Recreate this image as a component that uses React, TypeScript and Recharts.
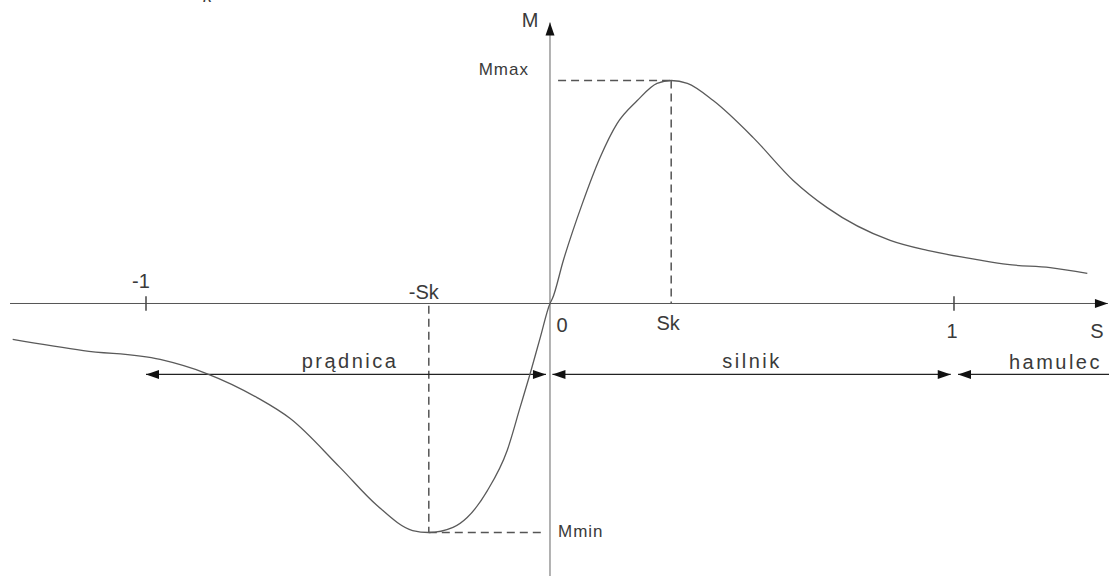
import React from "react";
import { LineChart, Line, XAxis, YAxis, ReferenceLine, ReferenceDot } from "recharts";

// slip s and torque M (M relative to Mmax)
const slip = [
  -1.33, -1.155, -0.965, -0.85, -0.725, -0.643, -0.52, -0.428, -0.34, -0.3, -0.24, -0.205, -0.155,
  -0.106, -0.074, -0.049, -0.024, 0, 0.006, 0.033, 0.08, 0.124, 0.166, 0.216, 0.265, 0.3, 0.34,
  0.404, 0.503, 0.602, 0.686, 0.842, 0.934, 1.057, 1.132, 1.238, 1.33,
];
const torque = [
  -0.161, -0.211, -0.251, -0.314, -0.422, -0.516, -0.735, -0.906, -1.018, -1.027, -1.004, -0.96,
  -0.839, -0.659, -0.466, -0.314, -0.152, 0, 0.022, 0.193, 0.448, 0.655, 0.807, 0.91, 0.987, 1,
  0.987, 0.91, 0.744, 0.552, 0.43, 0.283, 0.238, 0.197, 0.175, 0.161, 0.135,
];

const SK = 0.3;
const M_MAX = 1;
const M_MIN = -1.027;

// operating regions along the slip axis
const regions = [
  { name: "prądnica", from: -1, to: 0 },
  { name: "silnik", from: 0, to: 1 },
  { name: "hamulec", from: 1, to: 1.3837 },
];

const tickLabels = [
  { text: "-1", s: -1 },
  { text: "-Sk", s: -SK },
  { text: "0", s: 0 },
  { text: "Sk", s: SK },
  { text: "1", s: 1 },
];

const data = slip.map((s, i) => ({ s, m: torque[i] }));

const X_DOMAIN: [number, number] = [-1.3614, 1.3837];
const Y_DOMAIN: [number, number] = [-1.222, 1.361];
const REGION_M = -0.318;

const FONT = "'Liberation Sans Narrow', 'Liberation Sans', Arial, sans-serif";
const INK = "#3a3a3a";

function ArrowLine(props: any) {
  const { x1, y1, x2, y2, heads, stroke = "#555", strokeWidth = 1.5 } = props;
  const len = Math.hypot(x2 - x1, y2 - y1) || 1;
  const ux = (x2 - x1) / len;
  const uy = (y2 - y1) / len;
  const head = (tx: number, ty: number, dx: number, dy: number) => {
    const L = 13;
    const W = 4.5;
    const bx = tx - dx * L;
    const by = ty - dy * L;
    return (
      <polygon
        points={`${tx},${ty} ${bx - dy * W},${by + dx * W} ${bx + dy * W},${by - dx * W}`}
        fill="#111"
      />
    );
  };
  return (
    <g>
      <line x1={x1} y1={y1} x2={x2} y2={y2} stroke={stroke} strokeWidth={strokeWidth} />
      {(heads === "end" || heads === "both") && head(x2, y2, ux, uy)}
      {(heads === "start" || heads === "both") && head(x1, y1, -ux, -uy)}
    </g>
  );
}

function label(text: string, dx: number, dy: number, anchor: string, size = 20, spacing = 0) {
  return (p: any) => (
    <text
      x={p.cx + dx}
      y={p.cy + dy}
      textAnchor={anchor}
      fontFamily={FONT}
      fontSize={size}
      letterSpacing={spacing}
      fill={INK}
    >
      {text}
    </text>
  );
}

const tickOffsets: Record<string, [number, number]> = {
  "-1": [-5, -15.5],
  "-Sk": [-5, -4],
  "0": [12, 28.5],
  Sk: [-3, 26.5],
  "1": [-2, 34.5],
};

export default function App() {
  const dash = { stroke: "#555", strokeWidth: 1.5, strokeDasharray: "8 5" };
  return (
    <div style={{ position: "absolute", left: 0, top: 0, width: 1109, height: 576, background: "#fff", overflow: "hidden" }}>
      <span
        style={{ position: "absolute", left: 203, top: -14, fontFamily: FONT, fontStyle: "italic", fontSize: 18, color: INK }}
      >
        k
      </span>
      <LineChart width={1109} height={576} data={data} margin={{ top: 0, right: 0, bottom: 0, left: 0 }}>
        <XAxis dataKey="s" type="number" domain={X_DOMAIN} hide allowDataOverflow />
        <YAxis type="number" domain={Y_DOMAIN} hide allowDataOverflow />

        {/* axes */}
        <ReferenceLine
          segment={[{ x: -1.3366, y: 0 }, { x: 1.381, y: 0 }]}
          shape={(p: any) => <ArrowLine {...p} heads="end" stroke="#555" />}
        />
        <ReferenceLine
          segment={[{ x: 0, y: -1.222 }, { x: 0, y: 1.26 }]}
          shape={(p: any) => <ArrowLine {...p} heads="end" stroke="#666" />}
        />
        {[-1, 1].map((s) => (
          <ReferenceLine key={s} segment={[{ x: s, y: 0.032 }, { x: s, y: -0.032 }]} stroke="#444" strokeWidth={1.5} />
        ))}

        {/* Mmax / Mmin guides */}
        <ReferenceLine segment={[{ x: 0.02, y: M_MAX }, { x: SK, y: M_MAX }]} {...dash} />
        <ReferenceLine segment={[{ x: SK, y: M_MAX }, { x: SK, y: 0 }]} {...dash} />
        <ReferenceLine segment={[{ x: -SK, y: -0.01 }, { x: -SK, y: M_MIN }]} {...dash} />
        <ReferenceLine segment={[{ x: -SK, y: M_MIN }, { x: -0.012, y: M_MIN }]} {...dash} />

        {/* region arrows */}
        <ReferenceLine
          segment={[{ x: regions[0].from, y: REGION_M }, { x: -0.01, y: REGION_M }]}
          shape={(p: any) => <ArrowLine {...p} heads="both" stroke="#222" strokeWidth={1.3} />}
        />
        <ReferenceLine
          segment={[{ x: 0.006, y: REGION_M }, { x: 0.992, y: REGION_M }]}
          shape={(p: any) => <ArrowLine {...p} heads="both" stroke="#222" strokeWidth={1.3} />}
        />
        <ReferenceLine
          segment={[{ x: 1.01, y: REGION_M }, { x: regions[2].to, y: REGION_M }]}
          shape={(p: any) => <ArrowLine {...p} heads="start" stroke="#222" strokeWidth={1.3} />}
        />

        <Line
          dataKey="m"
          type="monotone"
          stroke="#5a5a5a"
          strokeWidth={1.3}
          dot={false}
          activeDot={false}
          isAnimationActive={false}
        />

        {/* text */}
        {tickLabels.map((t) => (
          <ReferenceDot
            key={t.text}
            x={t.s}
            y={0}
            r={0}
            shape={label(t.text, tickOffsets[t.text][0], tickOffsets[t.text][1], "middle")}
          />
        ))}
        <ReferenceDot x={1.3837} y={0} r={0} shape={label("S", -12, 34.5, "middle")} />
        <ReferenceDot x={0} y={1.26} r={0} shape={label("M", -20, 4.5, "middle")} />
        <ReferenceDot x={0} y={M_MAX} r={0} shape={label("Mmax", -21, -5.5, "end", 17, 1)} />
        <ReferenceDot x={0} y={M_MIN} r={0} shape={label("Mmin", 8, 4.5, "start", 17, 1)} />
        <ReferenceDot
          x={(regions[0].from + regions[0].to) / 2}
          y={REGION_M}
          r={0}
          shape={label(regions[0].name, 2, -6, "middle", 20, 2.5)}
        />
        <ReferenceDot
          x={(regions[1].from + regions[1].to) / 2}
          y={REGION_M}
          r={0}
          shape={label(regions[1].name, 0, -6, "middle", 20, 2.5)}
        />
        <ReferenceDot x={regions[2].to} y={REGION_M} r={0} shape={label(regions[2].name, -7, -5, "end", 20, 2.5)} />
      </LineChart>
    </div>
  );
}
